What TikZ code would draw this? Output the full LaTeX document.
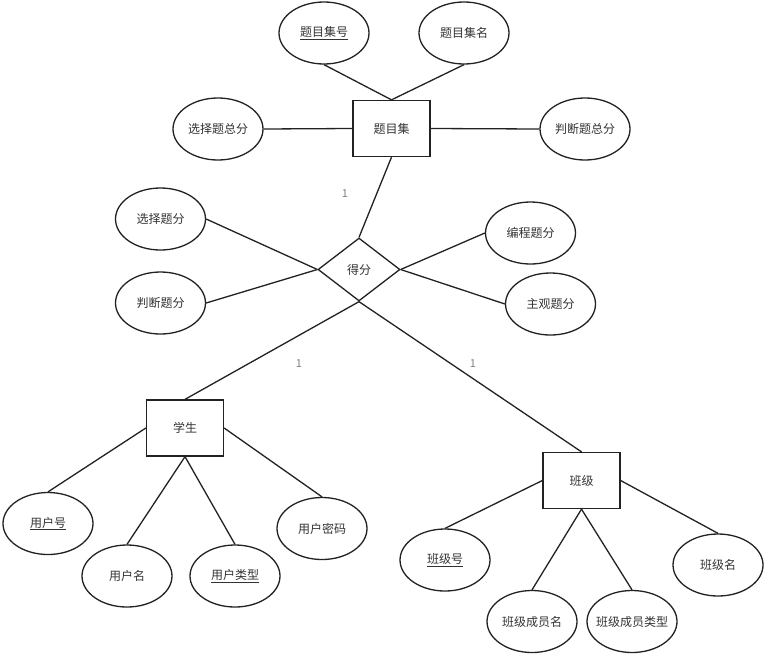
\documentclass[tikz,border=0pt]{standalone}
\usepackage{fontspec}
\setmainfont{Noto Sans CJK SC}
\usetikzlibrary{shapes.geometric}
\definecolor{ln}{HTML}{222222}
\definecolor{tx}{HTML}{333333}
\begin{document}
\begin{tikzpicture}[x=1pt,y=-1pt,
  attr/.style={draw=ln,line width=1.3pt,ellipse,minimum width=90pt,minimum height=62pt,inner sep=0pt,font=\fontsize{12}{14}\selectfont,text=tx},
  ent/.style={draw=ln,line width=1.3pt,rectangle,minimum width=77pt,minimum height=56pt,inner sep=0pt,font=\fontsize{12}{14}\selectfont,text=tx},
  rel/.style={draw=ln,line width=1.3pt,diamond,minimum width=82pt,minimum height=63pt,inner sep=0pt,aspect=1.3,font=\fontsize{12}{14}\selectfont,text=tx},
  conn/.style={draw=ln,line width=1.3pt},
  card/.style={text=gray,font=\fontsize{11}{13}\selectfont,inner sep=0pt}]
\useasboundingbox (0,0) rectangle (767,656);
\fill[white] (0,0) rectangle (767,656);
% entities
\node[ent] (tj) at (391.5,128.5) {题目集};
\node[ent] (xs) at (185,428) {学生};
\node[ent] (bj) at (581.5,480.5) {班级};
\node[rel,minimum width=82pt,minimum height=63pt] (df) at (359,269.5) {};
\node[text=tx,font=\fontsize{12}{14}\selectfont] (dft) at (359,269.5) {得分};
% 题目集 attrs
\node[attr] (tjh) at (324,33) {\underline{题目集号}};
\node[attr] (tjm) at (464,33) {题目集名};
\node[attr] (xzz) at (218,129) {选择题总分};
\node[attr] (pdz) at (585,129) {判断题总分};
% 得分 attrs
\node[attr] (xzf) at (160.5,219) {选择题分};
\node[attr] (pdf) at (160.5,303) {判断题分};
\node[attr] (bcf) at (530.5,233) {编程题分};
\node[attr] (zgf) at (550.5,304) {主观题分};
% 学生 attrs
\node[attr] (yhh) at (48,523.5) {\underline{用户号}};
\node[attr] (yhm) at (127,576) {用户名};
\node[attr] (yhl) at (235,576) {\underline{用户类型}};
\node[attr] (yhmm) at (322,528.5) {用户密码};
% 班级 attrs
\node[attr] (bjh) at (445,560) {\underline{班级号}};
\node[attr] (bjcy) at (532,621.5) {\makebox[0pt]{班级成员名}};
\node[attr] (bjlx) at (632,621.5) {\makebox[0pt]{班级成员类型}};
\node[attr] (bjm) at (718,565) {班级名};
% connectors
\draw[conn] (tjh.south) -- (tj.north);
\draw[conn] (tjm.south) -- (tj.north);
\draw[conn] (xzz.east) -- (tj.west);
\draw[conn] (pdz.west) -- (tj.east);
\draw[conn] (tj.south) -- (df.north);
\draw[conn] (xzf.east) -- (df.west);
\draw[conn] (pdf.east) -- (df.west);
\draw[conn] (bcf.west) -- (df.east);
\draw[conn] (zgf.west) -- (df.east);
\draw[conn] (df.south) -- (xs.north);
\draw[conn] (df.south) -- (bj.north);
\draw[conn] (yhh.north) -- (xs.west);
\draw[conn] (yhm.north) -- (xs.south);
\draw[conn] (yhl.north) -- (xs.south);
\draw[conn] (yhmm.north) -- (xs.east);
\draw[conn] (bjh.north) -- (bj.west);
\draw[conn] (bjcy.north) -- (bj.south);
\draw[conn] (bjlx.north) -- (bj.south);
\draw[conn] (bjm.north) -- (bj.east);
% cardinalities
\node[card] (c1) at (345,194) {1};
\node[card] (c2) at (299,364) {1};
\node[card] (c3) at (473,364) {1};
\end{tikzpicture}
\end{document}
